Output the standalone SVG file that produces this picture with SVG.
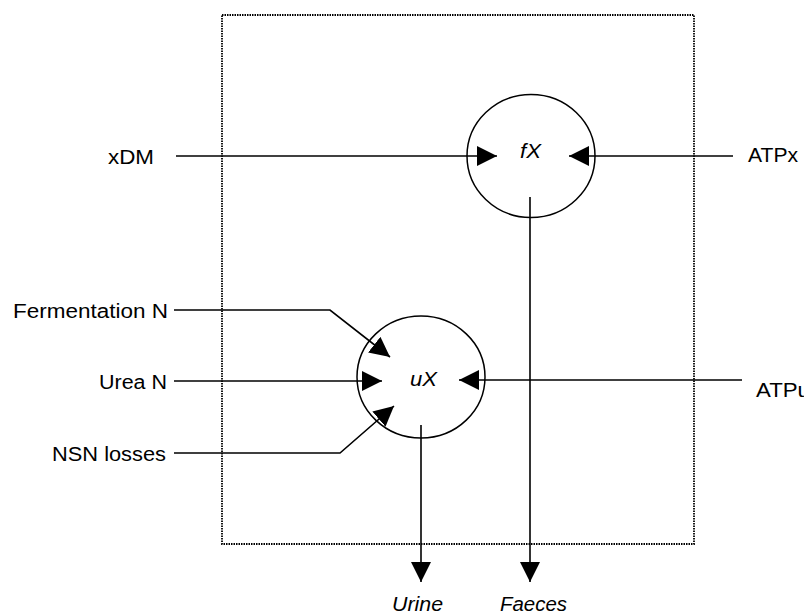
<svg xmlns="http://www.w3.org/2000/svg" width="804" height="614" viewBox="0 0 804 614">
  <style>
    .lbl { font-family: "Liberation Sans", Arial, sans-serif; font-size: 20px; fill: #000; }
    .it { font-style: italic; }
    .node { fill: #fff; stroke: #000; stroke-width: 1.5; }
    .conn { fill: none; stroke: #000; stroke-width: 1.6; }
    .box { fill: none; stroke: #000; stroke-width: 1.8; stroke-dasharray: 1.5 1; }
  </style>
  <defs>
    <marker id="arrow" viewBox="0 0 20 20" markerWidth="20" markerHeight="20" refX="20" refY="10" orient="auto" markerUnits="userSpaceOnUse">
      <path d="M0,0 L20,10 L0,20 z" fill="#000"/>
    </marker>
  </defs>
  <rect width="804" height="614" fill="#fff"/>

  <g id="boundary">
    <rect class="box" x="222" y="15" width="472" height="529"/>
  </g>

  <g id="nodes">
    <g id="fX">
      <ellipse class="node" cx="531" cy="156" rx="64" ry="61.5"/>
      <text class="lbl it" x="520" y="158" textLength="21" lengthAdjust="spacingAndGlyphs">fX</text>
    </g>
    <g id="uX">
      <ellipse class="node" cx="421" cy="377" rx="64" ry="61"/>
      <text class="lbl it" x="410" y="386" textLength="27" lengthAdjust="spacingAndGlyphs">uX</text>
    </g>
    <g id="xDM"><text class="lbl" x="108" y="164" textLength="46" lengthAdjust="spacingAndGlyphs">xDM</text></g>
    <g id="ATPx"><text class="lbl" x="748" y="162" textLength="50" lengthAdjust="spacingAndGlyphs">ATPx</text></g>
    <g id="FermentationN"><text class="lbl" x="13" y="318" textLength="155" lengthAdjust="spacingAndGlyphs">Fermentation N</text></g>
    <g id="UreaN"><text class="lbl" x="99" y="389" textLength="68" lengthAdjust="spacingAndGlyphs">Urea N</text></g>
    <g id="NSNlosses"><text class="lbl" x="52" y="461" textLength="114" lengthAdjust="spacingAndGlyphs">NSN losses</text></g>
    <g id="ATPu"><text class="lbl" x="756" y="397" textLength="54" lengthAdjust="spacingAndGlyphs">ATPu</text></g>
    <g id="Urine"><text class="lbl it" x="392" y="611" textLength="51" lengthAdjust="spacingAndGlyphs">Urine</text></g>
    <g id="Faeces"><text class="lbl it" x="500" y="611" textLength="67" lengthAdjust="spacingAndGlyphs">Faeces</text></g>
  </g>

  <g id="connectors">
    <line class="conn" x1="176" y1="156" x2="497" y2="156" marker-end="url(#arrow)"/>
    <line class="conn" x1="733" y1="156" x2="569" y2="156" marker-end="url(#arrow)"/>
    <line class="conn" x1="530" y1="197" x2="530" y2="582" marker-end="url(#arrow)"/>
    <polyline class="conn" points="174,310 330,310 390,357" marker-end="url(#arrow)"/>
    <line class="conn" x1="174" y1="381" x2="382" y2="381" marker-end="url(#arrow)"/>
    <polyline class="conn" points="174,453 340,453 394,406" marker-end="url(#arrow)"/>
    <line class="conn" x1="742" y1="380" x2="459" y2="380" marker-end="url(#arrow)"/>
    <line class="conn" x1="421" y1="425" x2="421" y2="582" marker-end="url(#arrow)"/>
  </g>
</svg>
